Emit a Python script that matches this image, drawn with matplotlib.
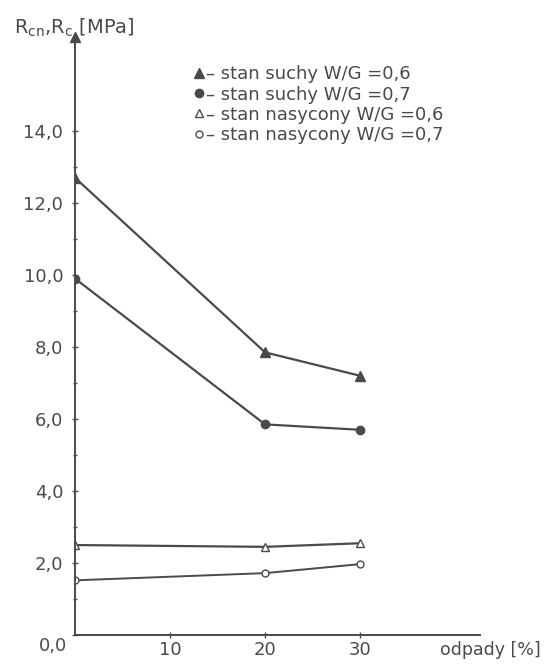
import numpy as np
import matplotlib.pyplot as plt
from matplotlib.ticker import FuncFormatter, FixedLocator

# data
odpady = [0, 20, 30]
suchy_06 = [12.7, 7.85, 7.2]
suchy_07 = [9.9, 5.85, 5.7]
nasycony_06 = [2.5, 2.45, 2.55]
nasycony_07 = [1.52, 1.72, 1.97]

labels = ["– stan suchy W/G =0,6",
          "– stan suchy W/G =0,7",
          "– stan nasycony W/G =0,6",
          "– stan nasycony W/G =0,7"]

ink = "#4a4a4a"
plt.rcParams['font.family'] = ['DejaVu Sans']

fig = plt.figure(figsize=(5.51, 6.65), dpi=100)
ax = fig.add_axes([0.136, 0.045, 0.735, 0.899])

ax.plot(odpady, suchy_06, '-', color=ink, lw=1.6, marker='^', ms=7,
        mfc=ink, mec=ink, label=labels[0])
ax.plot(odpady, suchy_07, '-', color=ink, lw=1.6, marker='o', ms=6,
        mfc=ink, mec=ink, label=labels[1])
ax.plot(odpady, nasycony_06, '-', color=ink, lw=1.6, marker='^', ms=6,
        mfc='white', mec=ink, label=labels[2])
ax.plot(odpady, nasycony_07, '-', color=ink, lw=1.4, marker='o', ms=5,
        mfc='white', mec=ink, label=labels[3])

ax.set_xlim(0, 42.6)
ax.set_ylim(0, 16.6)

for s in ['top', 'right']:
    ax.spines[s].set_visible(False)
for s in ['left', 'bottom']:
    ax.spines[s].set_color(ink)
    ax.spines[s].set_linewidth(1.4)

# arrow on the y axis
ax.plot(0, 1, '^', color=ink, ms=7, transform=ax.transAxes, clip_on=False)

ax.set_yticks(np.arange(0, 15, 2))
ax.yaxis.set_minor_locator(FixedLocator([1, 3, 5, 7, 9, 11, 13]))
ax.set_xticks([10, 20, 30])
ax.yaxis.set_major_formatter(FuncFormatter(lambda v, p: f"{v:.1f}".replace('.', ',')))
ax.tick_params(axis='both', which='both', direction='inout', color=ink,
               labelcolor=ink, labelsize=13)
ax.tick_params(axis='both', which='major', length=5, width=1)
ax.tick_params(axis='y', which='minor', length=3, width=1)
ax.tick_params(axis='x', pad=2)
ax.tick_params(axis='y', pad=6)
# the 0,0 label sits at the corner, a bit left of and below the axis
ax.yaxis.get_major_ticks()[0].label1.set_visible(False)
ax.text(-0.8, -0.3, "0,0", ha='right', va='center', color=ink, fontsize=13)

ax.text(49.0, -0.42, "odpady [%]", ha='right', va='center', color=ink,
        fontsize=12.5, clip_on=False)
ax.text(-6.4, 16.85, r"R$_\mathregular{cn}$,R$_\mathregular{c}$ [MPa]",
        ha='left', va='center', color=ink, fontsize=14, clip_on=False)

leg = ax.legend(loc='upper left', bbox_to_anchor=(0.265, 0.98), frameon=False,
                handlelength=0, handletextpad=0.4, labelspacing=0.12,
                fontsize=13, labelcolor=ink, markerscale=1.0)

fig.savefig("out.png", dpi=100)
